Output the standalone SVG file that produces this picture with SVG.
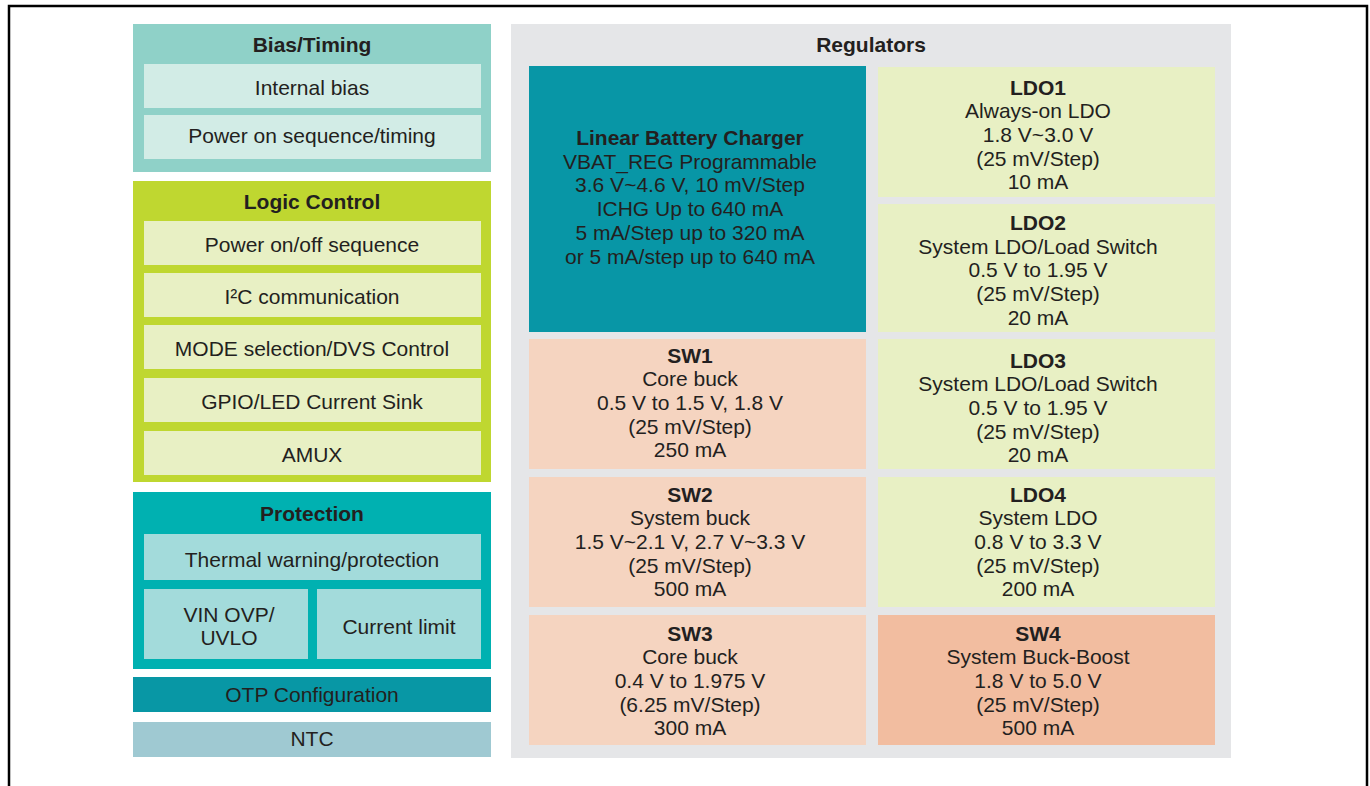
<svg xmlns="http://www.w3.org/2000/svg" width="1370" height="786" viewBox="0 0 1370 786">
<style>
text{font-family:"Liberation Sans",Arial,sans-serif;font-size:21px;fill:#231f20;text-anchor:middle}
.b{font-weight:bold}
.bias{fill:#8fd1c8}.biasi{fill:#d2ece6}
.logic{fill:#bfd730}.logici{fill:#e8f0c4}
.prot{fill:#00b1b1}.proti{fill:#a3dbdb}
.otp{fill:#0897a5}.ntc{fill:#9fc9d2}
.reg{fill:#e5e6e8}.chg{fill:#0896a6}
.ldo{fill:#e8f0c4}.sw{fill:#f5d4c0}.sw4{fill:#f2bda0}
</style>
<rect width="1370" height="786" fill="#ffffff"/>
<path d="M9,786 V6 H1367 V786" fill="none" stroke="#000" stroke-width="2.5"/>

<g id="bias-timing">
<rect class="bias" x="133" y="24" width="358" height="148"/>
<text class="b" x="312" y="52">Bias/Timing</text>
<rect class="biasi" x="144" y="64" width="337" height="44"/>
<text x="312" y="95">Internal bias</text>
<rect class="biasi" x="144" y="115" width="337" height="44"/>
<text x="312" y="143">Power on sequence/timing</text>
</g>

<g id="logic-control">
<rect class="logic" x="133" y="181" width="358" height="301"/>
<text class="b" x="312" y="209">Logic Control</text>
<rect class="logici" x="144" y="221" width="337" height="44"/>
<text x="312" y="252">Power on/off sequence</text>
<rect class="logici" x="144" y="273" width="337" height="44"/>
<text x="312" y="304">I²C communication</text>
<rect class="logici" x="144" y="325" width="337" height="44"/>
<text x="312" y="356">MODE selection/DVS Control</text>
<rect class="logici" x="144" y="378" width="337" height="44"/>
<text x="312" y="409">GPIO/LED Current Sink</text>
<rect class="logici" x="144" y="431" width="337" height="44"/>
<text x="312" y="462">AMUX</text>
</g>

<g id="protection">
<rect class="prot" x="133" y="492" width="358" height="177"/>
<text class="b" x="312" y="521">Protection</text>
<rect class="proti" x="144" y="534" width="337" height="46"/>
<text x="312" y="567">Thermal warning/protection</text>
<rect class="proti" x="144" y="589" width="164" height="70"/>
<text x="229" y="622">VIN OVP/</text>
<text x="229" y="645">UVLO</text>
<rect class="proti" x="317" y="589" width="164" height="70"/>
<text x="399" y="634">Current limit</text>
</g>

<g id="otp">
<rect class="otp" x="133" y="677" width="358" height="35"/>
<text x="312" y="702">OTP Configuration</text>
</g>

<g id="ntc">
<rect class="ntc" x="133" y="722" width="358" height="35"/>
<text x="312" y="746">NTC</text>
</g>

<g id="regulators">
<rect class="reg" x="511" y="24" width="720" height="734"/>
<text class="b" x="871" y="52">Regulators</text>
</g>

<g id="charger">
<rect class="chg" x="529" y="66" width="337" height="266"/>
<text x="690" y="145"><tspan class="b">Linear Battery Charger</tspan><tspan x="690" dy="23.7">VBAT_REG Programmable</tspan><tspan x="690" dy="23.7">3.6 V~4.6 V, 10 mV/Step</tspan><tspan x="690" dy="23.7">ICHG Up to 640 mA</tspan><tspan x="690" dy="23.7">5 mA/Step up to 320 mA</tspan><tspan x="690" dy="23.7">or 5 mA/step up to 640 mA</tspan></text>
</g>

<g id="ldo1">
<rect class="ldo" x="878" y="67" width="337" height="130"/>
<text x="1038" y="94.5"><tspan class="b">LDO1</tspan><tspan x="1038" dy="23.7">Always-on LDO</tspan><tspan x="1038" dy="23.7">1.8 V~3.0 V</tspan><tspan x="1038" dy="23.7">(25 mV/Step)</tspan><tspan x="1038" dy="23.7">10 mA</tspan></text>
</g>

<g id="ldo2">
<rect class="ldo" x="878" y="204" width="337" height="128"/>
<text x="1038" y="230"><tspan class="b">LDO2</tspan><tspan x="1038" dy="23.7">System LDO/Load Switch</tspan><tspan x="1038" dy="23.7">0.5 V to 1.95 V</tspan><tspan x="1038" dy="23.7">(25 mV/Step)</tspan><tspan x="1038" dy="23.7">20 mA</tspan></text>
</g>

<g id="sw1">
<rect class="sw" x="529" y="339" width="337" height="130"/>
<text x="690" y="362.5"><tspan class="b">SW1</tspan><tspan x="690" dy="23.7">Core buck</tspan><tspan x="690" dy="23.7">0.5 V to 1.5 V, 1.8 V</tspan><tspan x="690" dy="23.7">(25 mV/Step)</tspan><tspan x="690" dy="23.7">250 mA</tspan></text>
</g>

<g id="ldo3">
<rect class="ldo" x="878" y="339" width="337" height="130"/>
<text x="1038" y="367.5"><tspan class="b">LDO3</tspan><tspan x="1038" dy="23.7">System LDO/Load Switch</tspan><tspan x="1038" dy="23.7">0.5 V to 1.95 V</tspan><tspan x="1038" dy="23.7">(25 mV/Step)</tspan><tspan x="1038" dy="23.7">20 mA</tspan></text>
</g>

<g id="sw2">
<rect class="sw" x="529" y="477" width="337" height="130"/>
<text x="690" y="501.5"><tspan class="b">SW2</tspan><tspan x="690" dy="23.7">System buck</tspan><tspan x="690" dy="23.7">1.5 V~2.1 V, 2.7 V~3.3 V</tspan><tspan x="690" dy="23.7">(25 mV/Step)</tspan><tspan x="690" dy="23.7">500 mA</tspan></text>
</g>

<g id="ldo4">
<rect class="ldo" x="878" y="477" width="337" height="130"/>
<text x="1038" y="501.5"><tspan class="b">LDO4</tspan><tspan x="1038" dy="23.7">System LDO</tspan><tspan x="1038" dy="23.7">0.8 V to 3.3 V</tspan><tspan x="1038" dy="23.7">(25 mV/Step)</tspan><tspan x="1038" dy="23.7">200 mA</tspan></text>
</g>

<g id="sw3">
<rect class="sw" x="529" y="615" width="337" height="130"/>
<text x="690" y="640.5"><tspan class="b">SW3</tspan><tspan x="690" dy="23.7">Core buck</tspan><tspan x="690" dy="23.7">0.4 V to 1.975 V</tspan><tspan x="690" dy="23.7">(6.25 mV/Step)</tspan><tspan x="690" dy="23.7">300 mA</tspan></text>
</g>

<g id="sw4">
<rect class="sw4" x="878" y="615" width="337" height="130"/>
<text x="1038" y="640.5"><tspan class="b">SW4</tspan><tspan x="1038" dy="23.7">System Buck-Boost</tspan><tspan x="1038" dy="23.7">1.8 V to 5.0 V</tspan><tspan x="1038" dy="23.7">(25 mV/Step)</tspan><tspan x="1038" dy="23.7">500 mA</tspan></text>
</g>

<g id="connectors"/>
</svg>
